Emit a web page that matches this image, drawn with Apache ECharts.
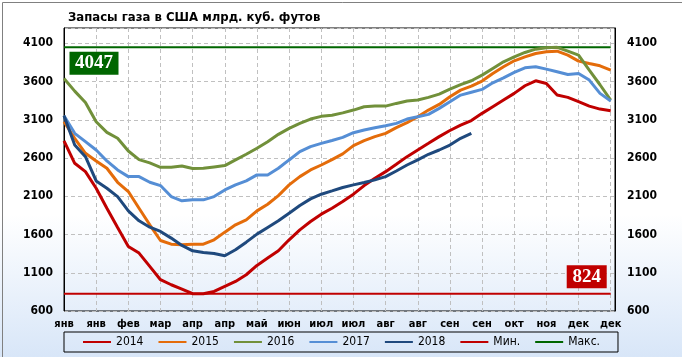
<!DOCTYPE html>
<html>
<head>
<meta charset="utf-8">
<script src="https://cdn.jsdelivr.net/npm/echarts@6/dist/echarts.min.js"></script>
<style>html,body{margin:0;padding:0;}#c{width:682px;height:357px;}</style>
</head>
<body>
<div id="c"></div>
<script>
const titleText = 'Запасы газа в США млрд. куб. футов';
const tickLabels = ['янв','янв','фев','мар','апр','апр','май','июн','июл','июл','авг','авг','сен','сен','окт','ноя','дек','дек'];
const seriesNames = ['2014','2015','2016','2017','2018','Мин.','Макс.'];
const s2014 = [2823,2531,2422,2205,1944,1692,1444,1357,1183,1009,943,887,826,
  826,856,922,987,1074,1196,1292,1387,1531,1661,1770,1866,
  1944,2031,2127,2240,2336,2422,2518,2618,2705,2792,2880,2960,3030,
  3090,3184,3271,3358,3445,3545,3610,3575,3423,3393,3336,3279,3240,3219];
const s2015 = [3075,2858,2662,2562,2466,2283,2162,1944,1727,1522,1474,1466,1474,
  1474,1531,1631,1727,1792,1909,1996,2109,2249,2357,2444,2509,
  2580,2655,2762,2827,2879,2923,2997,3062,3140,3227,3301,3401,3488,
  3540,3606,3706,3793,3871,3923,3967,3989,3997,3945,3867,3836,3806,3749];
const s2016 = [3640,3475,3327,3075,2936,2858,2692,2579,2536,2479,2479,2496,2462,
  2466,2484,2501,2575,2649,2727,2814,2910,2988,3053,3110,3145,
  3160,3190,3227,3271,3279,3279,3314,3345,3358,3393,3436,3501,3560,
  3610,3684,3771,3858,3923,3980,4023,4041,4047,3997,3945,3749,3558,3358];
const s2017 = [3153,2923,2814,2705,2562,2444,2357,2357,2283,2240,2096,2040,2053,
  2053,2096,2183,2249,2301,2379,2379,2466,2575,2683,2749,2792,
  2830,2870,2931,2966,2997,3023,3053,3110,3140,3171,3249,3336,3423,
  3460,3497,3584,3649,3719,3780,3793,3762,3728,3693,3706,3619,3445,3345];
const s2018 = [3153,2770,2618,2301,2205,2096,1909,1779,1696,1640,1553,1457,1387,
  1366,1352,1322,1400,1500,1605,1692,1779,1879,1979,2066,2127,
  2170,2214,2249,2279,2314,2357,2431,2509,2575,2649,2705,2770,2858,2923];
const minValue = 824;
const maxValue = 4047;
const yTicks = {min: 600, max: 4300, interval: 500};
const weeksCount = s2014.length;

const pairs = arr => arr.map((v, i) => [i, v]);
const lastIdx = weeksCount - 1;

const chart = echarts.init(document.getElementById('c'), null, {renderer: 'canvas'});
const lbl = {fontFamily: 'DejaVu Sans Condensed', fontWeight: 'bold', color: '#000'};
const mkLine = (name, data, color, width) => ({
  name, type: 'line', data: pairs(data), symbol: 'none', smooth: false,
  lineStyle: {color, width}, itemStyle: {color}, z: 3
});
const series = [
  mkLine(seriesNames[0], s2014, '#C00000', 3),
  mkLine(seriesNames[1], s2015, '#E46C0A', 3),
  mkLine(seriesNames[2], s2016, '#71903A', 3),
  mkLine(seriesNames[3], s2017, '#558ED5', 3),
  mkLine(seriesNames[4], s2018, '#1F497D', 3),
  {
    name: seriesNames[5], type: 'line', symbol: 'none',
    data: [[0, minValue], [lastIdx, minValue]],
    lineStyle: {color: '#C00000', width: 2}, itemStyle: {color: '#C00000'}, z: 2,
    markPoint: {
      symbol: 'rect', symbolSize: [40, 23], symbolOffset: [-24, -17],
      itemStyle: {color: '#C00000'},
      label: {show: true, position: 'inside', color: '#fff', fontFamily: 'Liberation Serif', fontWeight: 'bold', fontSize: 19, formatter: String(minValue)},
      data: [{coord: [lastIdx, minValue], value: minValue}]
    }
  },
  {
    name: seriesNames[6], type: 'line', symbol: 'none',
    data: [[0, maxValue], [lastIdx, maxValue]],
    lineStyle: {color: '#006600', width: 2}, itemStyle: {color: '#006600'}, z: 2,
    markPoint: {
      symbol: 'rect', symbolSize: [49, 23], symbolOffset: [30, 16],
      itemStyle: {color: '#006600'},
      label: {show: true, position: 'inside', color: '#fff', fontFamily: 'Liberation Serif', fontWeight: 'bold', fontSize: 19, formatter: String(maxValue)},
      data: [{coord: [0, maxValue], value: maxValue}]
    }
  }
];

const yBase = {
  type: 'value', min: yTicks.min, max: yTicks.max, interval: yTicks.interval,
  axisTick: {show: false},
  axisLabel: Object.assign({fontSize: 12, showMaxLabel: false, margin: 11, formatter: v => String(v)}, lbl)
};

chart.setOption({
  animation: false,
  backgroundColor: {type: 'linear', x: 0, y: 0, x2: 0, y2: 1,
    colorStops: [{offset: 0, color: '#ffffff'}, {offset: 0.6, color: '#ffffff'}, {offset: 1, color: '#d8e6f8'}]},
  title: {text: titleText, left: 63, top: 6,
    textStyle: {fontFamily: 'DejaVu Sans Condensed', fontWeight: 'bold', fontSize: 13, color: '#000'}},
  grid: {left: 64, right: 67, top: 28, bottom: 46, show: true, borderColor: '#000', borderWidth: 1, backgroundColor: 'transparent'},
  legend: {
    data: seriesNames, left: 'center', top: 332, padding: [4, 18, 4, 18],
    borderColor: '#000', borderWidth: 1, itemWidth: 28, itemHeight: 14, itemGap: 14,
    itemStyle: {opacity: 0, borderWidth: 0},
    textStyle: {fontFamily: 'DejaVu Sans Condensed', fontSize: 12, color: '#000'}
  },
  xAxis: {
    type: 'value', min: 0, max: lastIdx + 0.4, interval: 3,
    axisLine: {show: false}, axisTick: {show: false},
    splitLine: {show: true, lineStyle: {color: '#c0c0c0', type: [4, 3], width: 1}},
    axisLabel: Object.assign({fontSize: 11, margin: 8, showMaxLabel: false,
      formatter: v => (v % 3 === 0 && tickLabels[v / 3] !== undefined) ? tickLabels[v / 3] : ''}, lbl)
  },
  yAxis: [
    Object.assign({}, yBase, {position: 'left', axisLine: {show: true, lineStyle: {color: '#000'}},
      splitLine: {show: true, lineStyle: {color: '#c0c0c0', type: [4, 3], width: 1}}}),
    Object.assign({}, yBase, {position: 'right', axisLine: {show: true, lineStyle: {color: '#000'}},
      splitLine: {show: false}, axisLabel: Object.assign({}, yBase.axisLabel, {margin: 12})})
  ],
  graphic: [{type: 'rect', left: 0, top: 0, shape: {width: 681, height: 356},
    style: {fill: 'none', stroke: '#808080', lineWidth: 1}, silent: true}],
  series
});
</script>
</body>
</html>
